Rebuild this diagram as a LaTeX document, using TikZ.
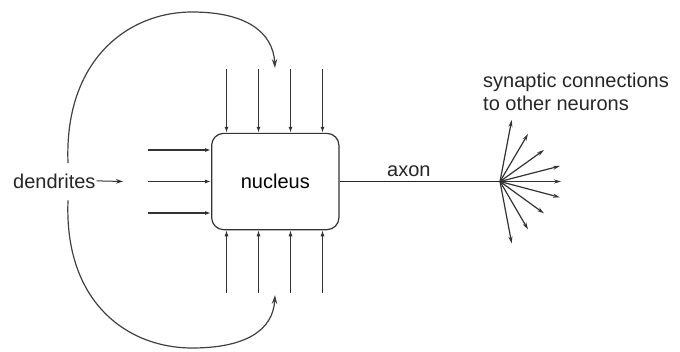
\documentclass[tikz,border=0pt]{standalone}
\usepackage{fontspec}
\setmainfont{Liberation Sans}
\usetikzlibrary{arrows.meta}
\begin{document}
\begin{tikzpicture}[x=1pt,y=-1pt,
  lbl/.style={inner sep=0pt, font=\fontsize{20}{23}\selectfont, text=black!85},
  inarrow/.style={line width=1pt, draw=black!80, -{Latex[length=6pt,width=4pt]}},
  sidearrow/.style={line width=1.5pt, draw=black!80, -{Latex[length=6pt,width=4pt]}},
  fanarrow/.style={line width=1.2pt, draw=black!80, -{Stealth[length=7pt,width=4pt]}},
  looparrow/.style={line width=1.2pt, draw=black!75, -{Stealth[length=9pt,width=5.5pt]}},
  nucbox/.style={draw=black!80, line width=1.2pt, rounded corners=12pt, minimum width=127.3pt, minimum height=96.3pt, inner sep=0pt, font=\fontsize{20}{23}\selectfont}
]
\useasboundingbox (0,0) rectangle (680,351);

% nucleus
\node[nucbox] (nucleus) at (275.3,181.5) {nucleus};

% dendrites label and arrow
\node[lbl, anchor=base west] (dendrites) at (13,188) {dendrites};
\coordinate (dtip) at (123,181.5);
\draw[line width=1pt, draw=black!80, -{Stealth[length=7pt,width=4.5pt]}] (dendrites.east) ++(1,0) -- (dtip);

% loop curves from dendrites
\coordinate (ltop) at (68,163);
\coordinate (lbot) at (68,200.4);
\coordinate (ttip) at (275,68);
\coordinate (btip) at (275,295);
\draw[looparrow] (ltop) .. controls (64,60) and (128,12) .. (192,12)
  .. controls (246,12) and (273,32) .. (ttip);
\draw[looparrow] (lbot) .. controls (64,303) and (128,348) .. (192,348)
  .. controls (246,348) and (273,330) .. (btip);

% top and bottom dendrite inputs
\foreach \i/\x in {1/226.5,2/258.5,3/290.5,4/322.5}{
  \coordinate (t\i) at (\x,69);
  \draw[inarrow] (t\i) -- (t\i |- nucleus.north);
  \coordinate (b\i) at (\x,293);
  \draw[inarrow] (b\i) -- (b\i |- nucleus.south);
}

% left inputs
\foreach \i/\y in {1/150,2/181.5,3/213}{
  \coordinate (l\i) at (148,\y);
  \draw[sidearrow] (l\i) -- (l\i -| nucleus.west);
}

% axon
\coordinate (fan) at (500,181.5);
\draw[line width=1.5pt, draw=black!85] (nucleus.east) -- (fan);
\node[lbl, anchor=base west] (axon) at (387,176.7) {axon};

% synaptic fan
\foreach \i/\sx/\sy in {1/511.7/120,2/528/134,3/544/150,4/560/166,5/561/181.5,6/560/197.4,7/544/213.4,8/528/229.4,9/511.7/243.4}{
  \coordinate (s\i) at (\sx,\sy);
  \draw[fanarrow] (fan) -- (s\i);
}

\node[lbl, anchor=north west, align=left] (syn) at (483,72.5) {synaptic connections\\to other neurons};
\end{tikzpicture}
\end{document}
